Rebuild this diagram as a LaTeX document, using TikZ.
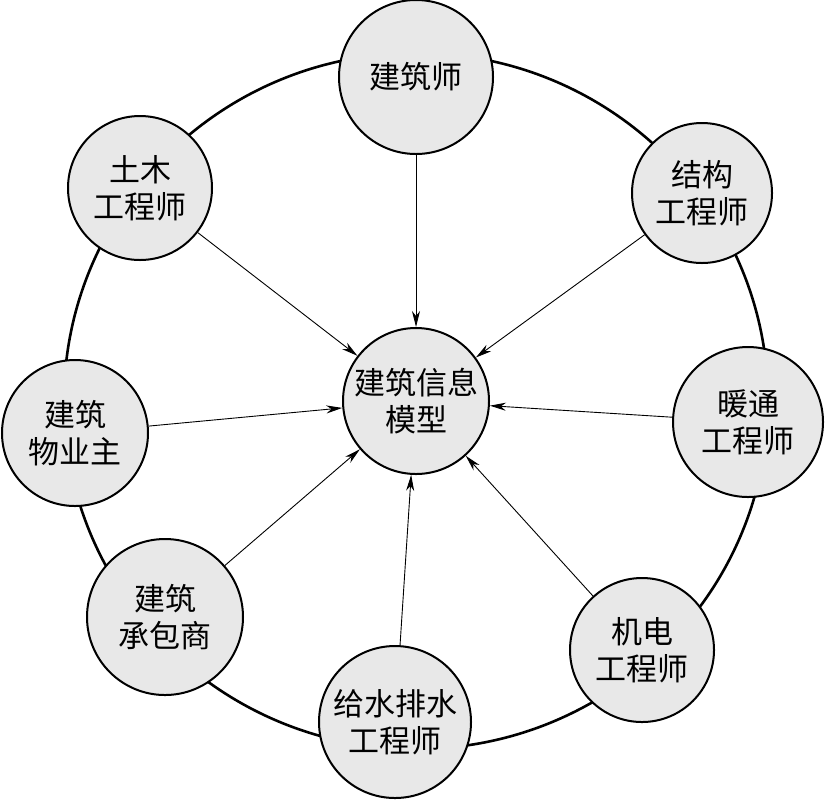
\documentclass[tikz,border=0pt]{standalone}
\usepackage{fontspec}
\newfontfamily\cjk{Noto Sans CJK SC}
\usetikzlibrary{arrows.meta}

\begin{document}
\begin{tikzpicture}[x=0.5pt,y=-0.5pt,
  role/.style={circle, draw, line width=1pt, fill=gray!18, minimum size=#1, inner sep=0pt,
    align=center, font=\cjk\fontsize{15.5}{18.5}\selectfont},
  role/.default=75pt,
  feed/.style={line width=0.45pt, -{Stealth[length=8pt,width=4pt,inset=2.5pt]}}]
\useasboundingbox (0,0) rectangle (828,799);
\draw[line width=1.3pt] (416,401) ellipse[x radius=176pt, y radius=174pt];
\node[role=73pt] (bim) at (416,401) {建筑信息\\模型};
\node[role=77pt] (arch) at (416,77) {建筑师};
\node[role=72pt] (civil) at (140,188) {土木\\工程师};
\node[role=70pt] (struct) at (702,193) {结构\\工程师};
\node[role=75pt] (hvac) at (748,422) {暖通\\工程师};
\node[role=73pt] (owner) at (75,433) {建筑\\物业主};
\node[role=78pt] (contractor) at (165,617) {建筑\\承包商};
\node[role=76pt] (plumbing) at (395,722) {给水排水\\工程师};
\node[role=72pt] (mep) at (642,650) {机电\\工程师};
\foreach \n in {arch,civil,struct,hvac,owner,contractor,plumbing,mep}{
  \draw[feed] (\n) -- (bim);
}
\end{tikzpicture}
\end{document}
